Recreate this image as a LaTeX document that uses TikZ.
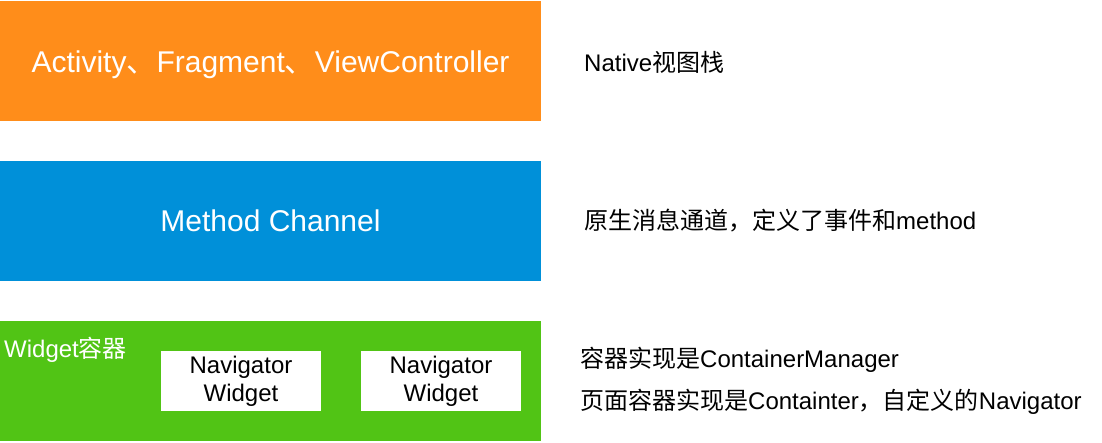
\documentclass[tikz,border=0pt]{standalone}
\usepackage{fontspec}
\setmainfont{Liberation Sans}
\newfontfamily\cjk{Noto Sans CJK SC}
\definecolor{layerorange}{HTML}{FF8D1A}
\definecolor{layerblue}{HTML}{0090D9}
\definecolor{layergreen}{HTML}{51C415}
\tikzset{
  layer/.style={draw=none, minimum width=541pt, minimum height=120pt, inner sep=0pt},
  title/.style={anchor=base, inner sep=0pt, text=white, font=\fontsize{30}{36}\selectfont},
  navbox/.style={fill=white, draw=none, minimum width=160pt, minimum height=60pt, inner sep=0pt, align=center, text=black, font=\fontsize{24}{28}\selectfont},
  note/.style={anchor=west, inner sep=0pt, text=black, font=\fontsize{24}{28}\selectfont},
}
\begin{document}
\begin{tikzpicture}[x=1pt,y=-1pt]
\useasboundingbox (0,0) rectangle (1102,442);
\node[layer, fill=layerorange] (native) at (270.5,60.5) {};
\node[layer, fill=layerblue] (channel) at (270.5,221) {};
\node[layer, fill=layergreen] (container) at (270.5,381) {};
\node[title] (nativetitle) at (270.5,72) {Activity{\cjk 、}Fragment{\cjk 、}ViewController};
\node[title] (channeltitle) at (270.5,231.5) {Method Channel};
\node[anchor=west, inner sep=0pt, text=white, font=\fontsize{24}{28}\selectfont] (clabel) at (4,350) {Widget{\cjk 容器}};
\node[navbox] (nav1) at (241,381) {Navigator\\Widget};
\node[navbox] (nav2) at (441,381) {Navigator\\Widget};
\node[note] (n1) at (584,62) {Native{\cjk 视图栈}};
\node[note] (n2) at (584,221) {{\cjk 原生消息通道，定义了事件和}method};
\node[note] (n3) at (580,360) {{\cjk 容器实现是}ContainerManager};
\node[note] (n4) at (580,402) {{\cjk 页面容器实现是}Containter{\cjk ，自定义的}Navigator};
\end{tikzpicture}
\end{document}
